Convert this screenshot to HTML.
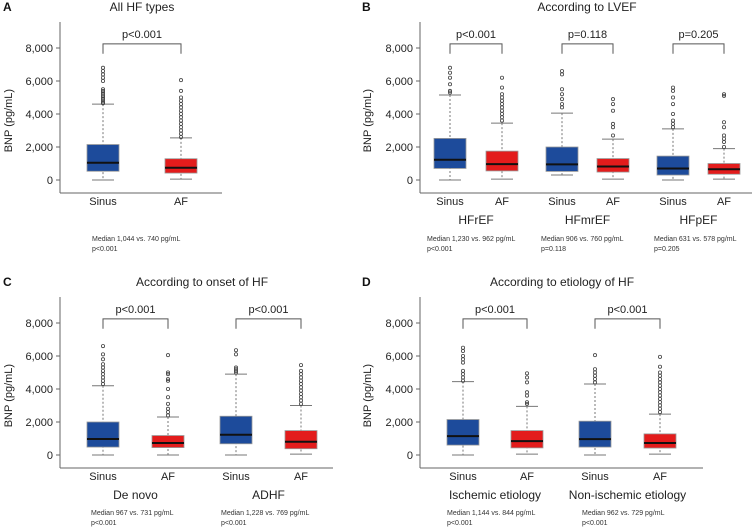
<!DOCTYPE html>
<html><head><meta charset="utf-8"><style>
body{margin:0;background:#fff;}
svg{display:block;font-family:"Liberation Sans",sans-serif;}
</style></head><body>
<svg id="fig" width="756" height="530" viewBox="0 0 756 530"></svg>
<script>
// ---- data (BNP pg/mL): [low whisker, q1, median, q3, high whisker]
const yTicks = [0, 2000, 4000, 6000, 8000];
const yTickLabels = ["0", "2,000", "4,000", "6,000", "8,000"];
const groupsA = ["All HF types"];
const groupsB = ["HFrEF", "HFmrEF", "HFpEF"];
const groupsC = ["De novo", "ADHF"];
const groupsD = ["Ischemic etiology", "Non-ischemic etiology"];
const pA = ["p<0.001"];
const pB = ["p<0.001", "p=0.118", "p=0.205"];
const pC = ["p<0.001", "p<0.001"];
const pD = ["p<0.001", "p<0.001"];
const sinusA = [[0, 530, 1044, 2150, 4600]];
const afA = [[50, 420, 740, 1290, 2550]];
const sinusB = [[0, 700, 1230, 2520, 5150], [300, 520, 950, 2000, 4050], [0, 300, 700, 1450, 3100]];
const afB = [[50, 550, 962, 1750, 3450], [50, 480, 820, 1300, 2480], [50, 350, 650, 1000, 1900]];
const sinusC = [[0, 480, 967, 2000, 4200], [0, 680, 1228, 2350, 4900]];
const afC = [[0, 450, 731, 1180, 2300], [50, 380, 800, 1480, 3000]];
const sinusD = [[0, 600, 1144, 2150, 4450], [0, 480, 962, 2050, 4300]];
const afD = [[50, 430, 844, 1480, 2950], [50, 420, 729, 1280, 2480]];
const outSinusA = [[4650,4700,4800,4900,5000,5100,5200,5300,5400,5500,6000,6200,6400,6600,6800]];
const outAfA = [[2600,2800,3000,3200,3400,3600,3800,4000,4200,4400,4600,4800,5000,5400,6050]];
const outSinusB = [[5300,5400,5800,6200,6500,6800],[4400,4600,4900,5200,5500,6400,6600],[3200,3400,3600,4000,4600,5000,5400,5600]];
const outAfB = [[3600,3800,4000,4200,4400,4600,4800,5000,5200,5600,6200],[2700,3200,3400,4200,4600,4900],[2000,2300,2500,2700,3200,3500,5100,5200]];
const outSinusC = [[4300,4500,4700,4900,5100,5300,5500,5800,6100,6600],[5000,5100,5200,5300,6100,6350]];
const outAfC = [[2400,2600,2800,3100,3500,4000,4500,4600,4900,5000,6050],[3100,3300,3500,3700,3900,4100,4300,4500,4700,4900,5100,5450]];
const outSinusD = [[4500,4700,4900,5100,5600,5800,6000,6300,6500],[4400,4600,4800,5000,5200,6050]];
const outAfD = [[3100,3200,3600,3800,4400,4700,4950],[2600,2800,3000,3200,3400,3600,3800,4000,4200,4400,4600,4800,5000,5350,5950]];
const medA = ["Median 1,044 vs. 740 pg/mL"];
const medB = ["Median 1,230 vs. 962 pg/mL", "Median 906 vs. 760 pg/mL", "Median 631 vs. 578 pg/mL"];
const medC = ["Median 967 vs. 731 pg/mL", "Median 1,228 vs. 769 pg/mL"];
const medD = ["Median 1,144 vs. 844 pg/mL", "Median 962 vs. 729 pg/mL"];

const NS = "http://www.w3.org/2000/svg";
const svg = document.getElementById("fig");
function mk(tag, attrs, parent, text) {
  const e = document.createElementNS(NS, tag);
  for (const k in attrs) e.setAttribute(k, attrs[k]);
  if (text !== undefined) e.textContent = text;
  (parent || svg).appendChild(e);
  return e;
}

function panel(cfg) {
  const g = mk("g", {});
  
  
  const y = v => cfg.y0 - v * 132 / 8000;
  // letter + title
  const L = mk("text", {x: cfg.lx, y: cfg.ty + 4, "font-size": 12, "font-weight": "bold", fill: "#111"}, g, cfg.letter);
  
  
  const T = mk("text", {x: cfg.tx, y: cfg.ty + 4, "font-size": 12, "text-anchor": "middle", fill: "#222"}, g, cfg.title);
  
  
  // y axis title
  const yt = mk("text", {x: 0, y: 0, "font-size": 11, "text-anchor": "middle", fill: "#222",
    transform: `translate(${cfg.lx + 9},${y(3600)}) rotate(-90)`}, g, "BNP (pg/mL)");
  
  
  // axes
  const ax = cfg.ax;
  const axy = mk("line", {x1: ax, y1: cfg.y0 - 158, x2: ax, y2: cfg.y0 + 13, stroke: "#666", "stroke-width": 1}, g);
  
  
  const axx = mk("line", {x1: ax, y1: cfg.y0 + 13, x2: cfg.axEnd, y2: cfg.y0 + 13, stroke: "#666", "stroke-width": 1}, g);
  
  
  yTicks.forEach((t, i) => {
    const tk = mk("line", {x1: ax - 4, x2: ax, y1: y(t), y2: y(t), stroke: "#666"}, g);
    
    
    const tl = mk("text", {x: ax - 7, y: y(t) + 4, "font-size": 11, "text-anchor": "end", fill: "#222"}, g, yTickLabels[i]);
    
    
  });
  cfg.groups.forEach((grp, gi) => {
    const xs = cfg.xs[gi], xa = cfg.xa[gi];
    // bracket
    const br = mk("path", {d: `M${xs},${y(7650)}V${y(8250)}H${xa}V${y(7650)}`, fill: "none", stroke: "#555", "stroke-width": 1}, g);
    
    
    const pl = mk("text", {x: (xs + xa) / 2, y: y(8250) - 6, "font-size": 11, "text-anchor": "middle", fill: "#222"}, g, cfg.p[gi]);
    
    
    [[xs, cfg.sinus[gi], cfg.outS[gi], "#1d4b9b", "Sinus", 32], [xa, cfg.af[gi], cfg.outA[gi], "#e31c1c", "AF", 32]].forEach(([cx, s, outs, col, lab, w]) => {
      const wh = mk("line", {x1: cx, x2: cx, y1: y(s[4]), y2: y(s[0]), stroke: "#777", "stroke-dasharray": "2,2"}, g);
      
      
      [s[0], s[4]].forEach(v => {
        const c = mk("line", {x1: cx - 11, x2: cx + 11, y1: y(v), y2: y(v), stroke: "#777"}, g);
        
        
      });
      outs.forEach(v => {
        const o = mk("circle", {cx: cx, cy: y(v), r: 1.6, fill: "none", stroke: "#444", "stroke-width": 0.8}, g);
        
        
      });
      const b = mk("rect", {x: cx - w / 2, y: y(s[3]), width: w, height: y(s[1]) - y(s[3]), fill: col, stroke: "#999", "stroke-width": 0.8}, g);
      
      
      const m = mk("line", {x1: cx - w / 2, x2: cx + w / 2, y1: y(s[2]), y2: y(s[2]), stroke: "#111", "stroke-width": 2}, g);
      
      
      const xl = mk("text", {x: cx, y: cfg.y0 + 25, "font-size": 11, "text-anchor": "middle", fill: "#222"}, g, lab);
      
      
    });
    if (cfg.showGroup) {
      const gl = mk("text", {x: (xs + xa) / 2, y: cfg.y0 + 44, "font-size": 12, "text-anchor": "middle", fill: "#222"}, g, grp);
      
      
    }
    const mt = mk("text", {x: cfg.mx[gi], y: cfg.my, "font-size": 7, fill: "#333"}, g, cfg.med[gi]);
    
    
    const pt = mk("text", {x: cfg.mx[gi], y: cfg.my + 10, "font-size": 7, fill: "#333"}, g, cfg.p[gi]);
    
    
  });
}

panel({name: "panel-a", letter: "A", title: "All HF types", lx: 3, tx: 142, ty: 7, ax: 60, axEnd: 222, y0: 180,
  groups: groupsA, xs: [103], xa: [181], p: pA, sinus: sinusA, af: afA, outS: outSinusA, outA: outAfA,
  showGroup: false, med: medA, mx: [92], my: 241});
panel({name: "panel-b", letter: "B", title: "According to LVEF", lx: 362, tx: 587, ty: 7, ax: 420, axEnd: 752, y0: 180,
  groups: groupsB, xs: [450, 562, 673], xa: [502, 613, 724], p: pB, sinus: sinusB, af: afB, outS: outSinusB, outA: outAfB,
  showGroup: true, med: medB, mx: [427, 541, 654], my: 241});
panel({name: "panel-c", letter: "C", title: "According to onset of HF", lx: 3, tx: 202, ty: 282, ax: 60, axEnd: 333, y0: 455,
  groups: groupsC, xs: [103, 236], xa: [168, 301], p: pC, sinus: sinusC, af: afC, outS: outSinusC, outA: outAfC,
  showGroup: true, med: medC, mx: [91, 221], my: 515});
panel({name: "panel-d", letter: "D", title: "According to etiology of HF", lx: 362, tx: 562, ty: 282, ax: 420, axEnd: 703, y0: 455,
  groups: groupsD, xs: [463, 595], xa: [527, 660], p: pD, sinus: sinusD, af: afD, outS: outSinusD, outA: outAfD,
  showGroup: true, med: medD, mx: [447, 582], my: 515});
</script>
</body></html>
